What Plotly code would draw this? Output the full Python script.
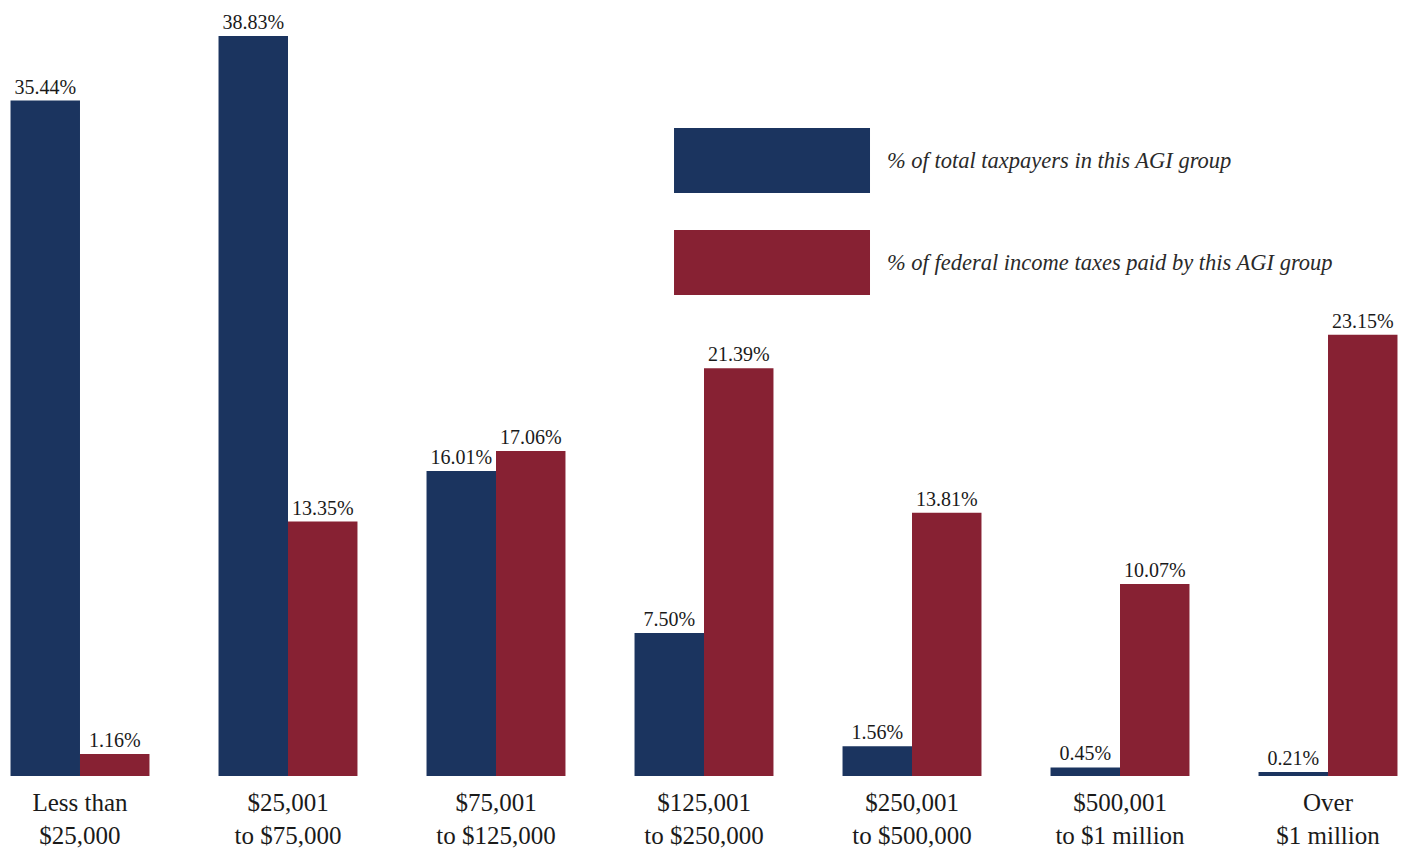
import plotly.graph_objects as go

# AGI brackets shown along the x-axis
groups = [
    "Less than<br>$25,000",
    "$25,001<br>to $75,000",
    "$75,001<br>to $125,000",
    "$125,001<br>to $250,000",
    "$250,001<br>to $500,000",
    "$500,001<br>to $1 million",
    "Over<br>$1 million",
]

# Share of taxpayers and share of federal income taxes paid (percent)
taxpayers_pct = [35.44, 38.83, 16.01, 7.50, 1.56, 0.45, 0.21]
taxes_paid_pct = [1.16, 13.35, 17.06, 21.39, 13.81, 10.07, 23.15]

series_names = [
    "% of total taxpayers in this AGI group",
    "% of federal income taxes paid by this AGI group",
]

BLUE = "#1b345f"
RED = "#872133"
SERIF = "Liberation Serif, DejaVu Serif, serif"

x_pos = list(range(len(groups)))

fig = go.Figure()
for vals, color, name in [
    (taxpayers_pct, BLUE, series_names[0]),
    (taxes_paid_pct, RED, series_names[1]),
]:
    fig.add_trace(go.Bar(
        x=x_pos,
        y=vals,
        name=name,
        marker=dict(color=color, line=dict(width=0)),
        text=[f"{v:.2f}%" for v in vals],
        textposition="outside",
        textfont=dict(family=SERIF, size=20, color="#1a1a1a"),
        constraintext="none",
        cliponaxis=False,
        showlegend=False,
    ))

# Legend drawn as swatches with italic captions
legend_rows = [(BLUE, series_names[0], 0.8757, 0.7878), (RED, series_names[1], 0.7378, 0.6500)]
for color, label, y1, y0 in legend_rows:
    fig.add_shape(type="rect", xref="paper", yref="paper",
                  x0=0.4784, x1=0.6196, y0=y0, y1=y1,
                  fillcolor=color, line=dict(width=0))
    fig.add_annotation(xref="paper", yref="paper", x=0.6304, y=(y0 + y1) / 2,
                       xanchor="left", yanchor="middle", showarrow=False,
                       text=f"<i>{label}</i>",
                       font=dict(family=SERIF, size=22.5, color="#2a2a2a"))

fig.update_layout(
    width=1401, height=850,
    margin=dict(l=10, r=3, t=36, b=74),
    paper_bgcolor="white", plot_bgcolor="white",
    barmode="group", bargap=0.332, bargroupgap=0,
    xaxis=dict(
        tickmode="array", tickvals=x_pos, ticktext=groups,
        range=[-0.3365, 6.3365],
        automargin=False,
        showgrid=False, zeroline=False, showline=False,
        ticks="outside", ticklen=4, tickcolor="rgba(0,0,0,0)",
        tickfont=dict(family=SERIF, size=25, color="#1a1a1a"),
    ),
    yaxis=dict(range=[0, 38.83], visible=False),
)

fig.write_html("out.html")
